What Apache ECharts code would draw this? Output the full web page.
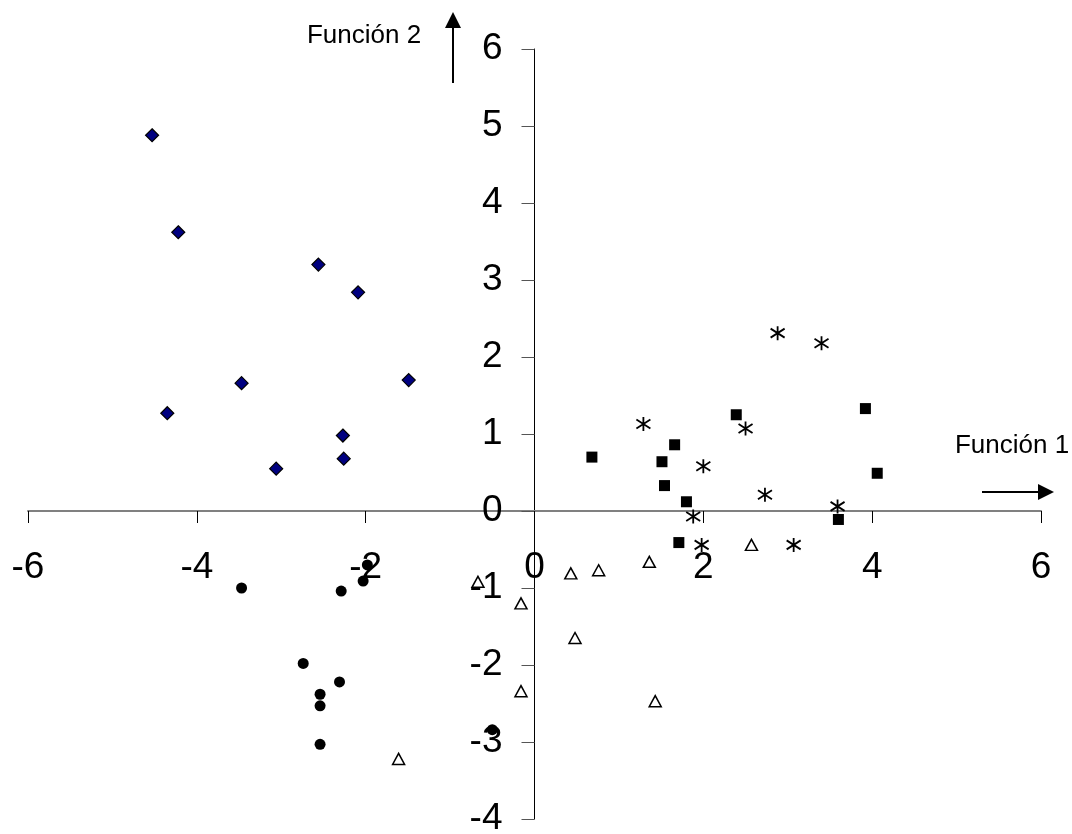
<!DOCTYPE html>
<html>
<head>
<meta charset="utf-8">
<script src="https://cdn.jsdelivr.net/npm/echarts@6/dist/echarts.min.js"></script>
<style>
html,body{margin:0;padding:0;background:#fff;}
#chart{width:1072px;height:834px;}
</style>
</head>
<body>
<div id="chart"></div>
<script>
// Group 1: diamonds (navy)
const diamondX = [-4.53, -4.22, -2.56, -2.09, -1.49, -3.47, -4.35, -2.27, -2.26, -3.06];
const diamondY = [4.88, 3.62, 3.20, 2.84, 1.70, 1.66, 1.27, 0.98, 0.68, 0.55];
// Group 2: filled circles
const circleX = [-3.47, -2.29, -1.98, -2.03, -2.74, -2.31, -2.54, -2.54, -2.54, -0.50];
const circleY = [-1.00, -1.04, -0.70, -0.91, -1.98, -2.22, -2.38, -2.53, -3.03, -2.84];
// Group 3: open triangles
const triangleX = [-0.67, -0.16, 0.43, 0.76, 1.36, 0.48, -0.16, 1.43, -1.61, 2.57];
const triangleY = [-0.92, -1.20, -0.81, -0.77, -0.66, -1.65, -2.34, -2.47, -3.22, -0.44];
// Group 4: filled squares
const squareX = [0.68, 1.66, 1.51, 1.54, 1.80, 2.39, 3.92, 4.06, 3.60, 1.71];
const squareY = [0.70, 0.86, 0.64, 0.33, 0.12, 1.25, 1.33, 0.49, -0.11, -0.41];
// Group 5: asterisks
const starX = [2.88, 3.40, 1.29, 2.50, 2.00, 2.73, 3.59, 1.88, 1.98, 3.07];
const starY = [2.31, 2.18, 1.13, 1.07, 0.58, 0.21, 0.06, -0.07, -0.44, -0.44];

const xTicks = [-6, -4, -2, 0, 2, 4, 6];
const yTicks = [-4, -3, -2, -1, 0, 1, 2, 3, 4, 5, 6];
const xAxisName = 'Función 1';
const yAxisName = 'Función 2';

function pairs(xs, ys) { return xs.map((x, i) => [x, ys[i]]); }

const FONT = '"Liberation Sans", Arial, sans-serif';
const W = 1072, H = 834;
const G = {left: 28, right: 31, top: 49, bottom: 15};
const xMin = xTicks[0], xMax = xTicks[xTicks.length - 1];
const yMin = yTicks[0], yMax = yTicks[yTicks.length - 1];
const gw = W - G.left - G.right, gh = H - G.top - G.bottom;
// offsets that bring the axes (with their labels) onto the zero lines
const xAxisOffset = -gh * (0 - yMin) / (yMax - yMin);
const yAxisOffset = -gw * (0 - xMin) / (xMax - xMin);

const chart = echarts.init(document.getElementById('chart'), null, {renderer: 'canvas'});

const starPath = 'path://M7,0L7,14M0,2.5L14,11.5M0,11.5L14,2.5';

chart.setOption({
  animation: false,
  backgroundColor: '#ffffff',
  grid: Object.assign({containLabel: false, outerBoundsMode: 'none'}, G),
  xAxis: {
    type: 'value', position: 'bottom', offset: xAxisOffset,
    min: xMin, max: xMax, interval: 2,
    axisLine: {onZero: false, lineStyle: {color: '#808080', width: 2}},
    axisTick: {show: true, inside: false, length: 12, lineStyle: {color: '#000', width: 1}},
    axisLabel: {show: true, margin: 38, color: '#000', fontSize: 37, fontFamily: FONT},
    splitLine: {show: false}
  },
  yAxis: {
    type: 'value', position: 'left', offset: yAxisOffset,
    min: yMin, max: yMax, interval: 1,
    axisLine: {onZero: false, lineStyle: {color: '#000', width: 1}},
    axisTick: {show: true, inside: false, length: 13, lineStyle: {color: '#555', width: 1}},
    axisLabel: {show: true, margin: 32, color: '#000', fontSize: 37, fontFamily: FONT},
    splitLine: {show: false}
  },
  series: [
    {type: 'scatter', data: pairs(diamondX, diamondY), symbol: 'diamond', symbolSize: 13,
     itemStyle: {color: '#000080', borderColor: '#000', borderWidth: 1.2, opacity: 1}},
    {type: 'scatter', data: pairs(circleX, circleY), symbol: 'circle', symbolSize: 11,
     itemStyle: {color: '#000', opacity: 1}},
    {type: 'scatter', data: pairs(triangleX, triangleY), symbol: 'triangle', symbolSize: [12, 11],
     itemStyle: {color: '#fff', borderColor: '#000', borderWidth: 1.5, opacity: 1}},
    {type: 'scatter', data: pairs(squareX, squareY), symbol: 'rect', symbolSize: 11,
     itemStyle: {color: '#000', opacity: 1}},
    {type: 'scatter', data: pairs(starX, starY), symbol: starPath, symbolSize: 14,
     itemStyle: {color: 'rgba(0,0,0,0)', borderColor: '#000', borderWidth: 1.8, opacity: 1}}
  ],
  graphic: [
    {type: 'text', x: 364, y: 36, style: {text: yAxisName, font: '26px ' + FONT, fill: '#000', align: 'center', verticalAlign: 'middle'}},
    {type: 'line', shape: {x1: 453, y1: 83, x2: 453, y2: 26}, style: {stroke: '#000', lineWidth: 2}},
    {type: 'polygon', shape: {points: [[445, 28], [461, 28], [453, 12]]}, style: {fill: '#000'}},
    {type: 'text', x: 1012, y: 446, style: {text: xAxisName, font: '26px ' + FONT, fill: '#000', align: 'center', verticalAlign: 'middle'}},
    {type: 'line', shape: {x1: 982, y1: 492, x2: 1040, y2: 492}, style: {stroke: '#000', lineWidth: 2}},
    {type: 'polygon', shape: {points: [[1038, 484], [1038, 500], [1054, 492]]}, style: {fill: '#000'}}
  ]
});
</script>
</body>
</html>
